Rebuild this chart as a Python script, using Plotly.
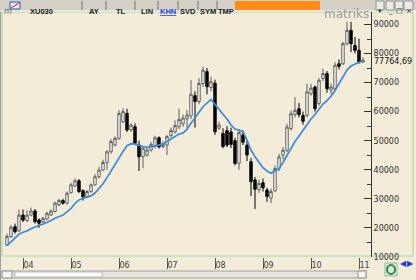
import plotly.graph_objects as go

# ---------------- data (monthly XU030, Sep 2003 .. Feb 2011) ----------------
month_idx = list(range(90))
opens = [14100, 17000, 20400, 19000, 24400, 22500, 24400, 25800, 22700, 22100,
         23000, 24400, 25600, 27900, 29400, 28500, 32100, 34400, 36200, 32800,
         30700, 32500, 34800, 37600, 39900, 42500, 46200, 48500, 50800, 56500,
         59400, 53700, 54800, 48500, 44500, 45000, 46800, 47900, 51000, 47900,
         48500, 51800, 53000, 54800, 55800, 57500, 58500, 65500, 63500, 69700,
         73800, 68300, 69800, 54300, 52500, 53500, 53000, 50000, 42200, 52000,
         48500, 42800, 36500, 33100, 35500, 33000, 30200, 32800, 40400, 45000,
         46700, 54200, 59000, 61000, 58700, 58700, 66200, 68500, 62800, 71400,
         73100, 67400, 67900, 76500, 76500, 83400, 88000, 82800, 81100, 77100]
highs = [18000, 21000, 21500, 26200, 26300, 26000, 27000, 26500, 23300, 23800,
         25500, 26300, 29000, 30000, 30000, 32500, 35500, 37000, 36800, 33300,
         33000, 35300, 38500, 41000, 43500, 46800, 50500, 51500, 60500, 61200,
         61000, 56000, 56000, 50000, 47800, 47500, 49500, 51700, 51500, 49800,
         52000, 54500, 57000, 61000, 59000, 60500, 70800, 67000, 71500, 75500,
         75000, 72000, 71000, 56600, 54300, 55000, 54500, 51000, 54000, 53500,
         50000, 44000, 37500, 36500, 37000, 33800, 33500, 41500, 45500, 47800,
         55800, 60400, 65000, 63000, 60000, 69600, 69600, 69000, 71500, 74800,
         74000, 69500, 77000, 78000, 84000, 90900, 90900, 85700, 85100, 78700]
lows = [13800, 16500, 18000, 18500, 22000, 22000, 24000, 21500, 20000, 21700,
        22800, 24200, 25300, 27500, 28000, 28000, 31800, 34000, 32000, 29400,
        30200, 32000, 34500, 37000, 39500, 40000, 45500, 48000, 50300, 56000,
        53000, 53000, 48500, 39600, 40500, 44500, 46200, 47500, 47300, 47500,
        45100, 51000, 52500, 54000, 54800, 54500, 57500, 54500, 62500, 68500,
        66000, 67000, 52000, 53700, 47400, 47800, 47500, 41500, 40000, 48500,
        43000, 31000, 26500, 32000, 32500, 29000, 28500, 32300, 39500, 43500,
        46000, 53500, 58000, 58000, 55500, 58000, 65500, 60000, 62000, 70500,
        66500, 66000, 67000, 74500, 76000, 82800, 80500, 80000, 76500, 76800]
closes = [17000, 20200, 18700, 24400, 22700, 24400, 25800, 22100, 21600, 23300,
          25000, 25800, 28500, 29400, 28500, 31900, 34800, 36200, 32500, 30700,
          32500, 34800, 37600, 39900, 42500, 46200, 49700, 50800, 59400, 60000,
          53700, 55400, 49100, 44500, 47400, 46800, 48750, 51000, 47900, 48750,
          51400, 53500, 55200, 57300, 57800, 58800, 66000, 63500, 69700, 74300,
          68600, 70300, 53100, 55400, 48000, 48500, 48700, 42200, 52800, 49500,
          45100, 35900, 33300, 35300, 33800, 30800, 32500, 40400, 44400, 46700,
          54700, 59300, 60500, 59000, 56700, 66800, 68100, 61000, 70800, 73100,
          67900, 68500, 76000, 75600, 83400, 88000, 83400, 81100, 77100, 77764.69]
moving_avg = [13900, 15300, 16700, 17800, 18500, 18900, 19700, 20400, 20900, 21300,
              21800, 22500, 23300, 23900, 24400, 25500, 26700, 28400, 29600, 30100,
              30500, 31000, 32000, 33500, 35200, 37300, 39600, 41900, 44300, 46300,
              48300, 49000, 48800, 48300, 48000, 47700, 47900, 48300, 48500, 48900,
              49700, 50500, 51400, 52300, 52600, 54000, 56000, 57700, 59800, 61700,
              63100, 64200, 62500, 60600, 59100, 57500, 55400, 54000, 53600, 53200,
              50200, 46800, 44500, 42600, 40700, 39600, 38800, 39600, 40400, 42500,
              45000, 47500, 49700, 51600, 53700, 55800, 57500, 59000, 61000, 62600,
              63800, 65300, 67300, 69500, 71700, 74300, 75700, 76500, 77000, 77300]
year_tick_idx = [4, 16, 28, 40, 52, 64, 76, 88]
year_tick_text = ["04", "05", "06", "07", "08", "09", "10", "11"]
price_ticks = [10000, 20000, 30000, 40000, 50000, 60000, 70000, 80000, 90000]
last_value = 77764.69
last_label = "77764,69"
symbol = "XU030"
menu_items = ["AY", "TL", "LIN", "KHN", "SVD", "SYM", "TMP"]

# ---------------- layout geometry ----------------
W, H = 416, 280
PL, PR, PT, PB = 2, 371, 12, 257   # plot area in pixels
BG = "#F2ECD9"
FONT = "DejaVu Sans"
BAR_FONT = "Liberation Sans"


def px(x):
    return (x - PL) / (PR - PL)


def py(y):
    return (PB - y) / (PB - PT)


fig = go.Figure()
fig.add_trace(go.Candlestick(
    x=month_idx, open=opens, high=highs, low=lows, close=closes,
    increasing=dict(line=dict(color="#5E5E5E", width=1), fillcolor="#FFFFFF"),
    decreasing=dict(line=dict(color="#000000", width=1), fillcolor="#000000"),
    whiskerwidth=0, showlegend=False, hoverinfo="skip"))
fig.add_trace(go.Scatter(
    x=month_idx, y=moving_avg, mode="lines",
    line=dict(color="#3A8BDD", width=1.7), showlegend=False, hoverinfo="skip"))

shapes = []
ann = []

# green frame around chart + price axis
shapes.append(dict(type="rect", xref="paper", yref="paper",
                   x0=px(2), x1=px(413), y0=py(256), y1=py(12),
                   line=dict(color="#A6D6A0", width=1), fillcolor="rgba(0,0,0,0)", layer="below"))
# window left edge
shapes.append(dict(type="line", xref="paper", yref="paper", x0=px(0.5), x1=px(0.5),
                   y0=py(280), y1=py(0), line=dict(color="#A0A0A0", width=1)))
# toolbar
shapes.append(dict(type="rect", xref="paper", yref="paper", x0=px(0), x1=px(416),
                   y0=py(11), y1=py(0), line=dict(width=0), fillcolor="#D5D1C6"))
shapes.append(dict(type="line", xref="paper", yref="paper", x0=px(0), x1=px(416),
                   y0=py(11), y1=py(11), line=dict(color="#F8F8F8", width=1)))
shapes.append(dict(type="rect", xref="paper", yref="paper", x0=px(235), x1=px(320),
                   y0=py(10), y1=py(1), line=dict(width=0), fillcolor="#FF8A14"))
# separators in toolbar
for sx in [82, 106, 135, 158, 178, 198, 217]:
    shapes.append(dict(type="line", xref="paper", yref="paper", x0=px(sx), x1=px(sx),
                       y0=py(10), y1=py(1), line=dict(color="#707070", width=1)))
# icon
shapes.append(dict(type="rect", xref="paper", yref="paper", x0=px(10), x1=px(20),
                   y0=py(9), y1=py(2), line=dict(color="#3050C0", width=1), fillcolor="#E8E8F0"))
shapes.append(dict(type="line", xref="paper", yref="paper", x0=px(11), x1=px(19),
                   y0=py(8), y1=py(3), line=dict(color="#D02020", width=1)))
# window buttons
for bx0, bx1 in [(376, 384), (386, 394), (395, 403), (404, 413)]:
    shapes.append(dict(type="rect", xref="paper", yref="paper", x0=px(bx0), x1=px(bx1),
                       y0=py(10), y1=py(1), line=dict(color="#909090", width=1), fillcolor="#ECEAE4"))
# scrollbar
shapes.append(dict(type="rect", xref="paper", yref="paper", x0=px(2), x1=px(366),
                   y0=py(278), y1=py(271), line=dict(color="#A0A0A0", width=1), fillcolor="#E6E3DA"))
shapes.append(dict(type="rect", xref="paper", yref="paper", x0=px(15), x1=px(102),
                   y0=py(277), y1=py(272), line=dict(color="#B8B8B8", width=1), fillcolor="#FFFFFF"))
shapes.append(dict(type="rect", xref="paper", yref="paper", x0=px(2), x1=px(12),
                   y0=py(278), y1=py(271), line=dict(color="#909090", width=1), fillcolor="#F4F4F0"))
shapes.append(dict(type="rect", xref="paper", yref="paper", x0=px(358), x1=px(366),
                   y0=py(278), y1=py(271), line=dict(color="#909090", width=1), fillcolor="#F4F4F0"))
# refresh icon
shapes.append(dict(type="rect", xref="paper", yref="paper", x0=px(385), x1=px(397),
                   y0=py(276), y1=py(263), line=dict(color="#8FB8A0", width=1), fillcolor="#DDEBDD"))
shapes.append(dict(type="circle", xref="paper", yref="paper", x0=px(387), x1=px(395),
                   y0=py(274), y1=py(265), line=dict(color="#2F8A4A", width=2), fillcolor="rgba(0,0,0,0)"))

# toolbar texts
ann.append(dict(xref="paper", yref="paper", x=px(2), y=py(5.5), text="m", showarrow=False,
                xanchor="left", font=dict(family=FONT, size=8, color="#707070")))
ann.append(dict(xref="paper", yref="paper", x=px(28), y=py(5.5), text="<b>" + symbol + "</b>",
                showarrow=False, xanchor="left", font=dict(family=BAR_FONT, size=7.5, color="#202020")))
menu_x = [94, 121, 146.5, 168, 188, 207.5, 225.5]
for mx, t in zip(menu_x, menu_items):
    col = "#1E3CE0" if t == "KHN" else "#202020"
    txt = "<b><u>" + t + "</u></b>" if t == "KHN" else "<b>" + t + "</b>"
    ann.append(dict(xref="paper", yref="paper", x=px(mx), y=py(5.5), text=txt, showarrow=False,
                    xanchor="center", font=dict(family=BAR_FONT, size=7.5, color=col)))
ann.append(dict(xref="paper", yref="paper", x=px(322), y=py(5.5), text="matriks", showarrow=False,
                xanchor="left", font=dict(family=FONT, size=12, color="#9A9A9A")))
for bx, t in [(380, "▾"), (390, "_"), (399, "□"), (408.5, "×")]:
    ann.append(dict(xref="paper", yref="paper", x=px(bx), y=py(5.5), text=t, showarrow=False,
                    xanchor="center", font=dict(family=FONT, size=7, color="#303030")))
# nav arrows
ann.append(dict(xref="paper", yref="paper", x=px(403), y=py(270), text="◀", showarrow=False,
                xanchor="center", font=dict(family=FONT, size=8, color="#1E3CC8")))
ann.append(dict(xref="paper", yref="paper", x=px(410), y=py(270), text="▶", showarrow=False,
                xanchor="center", font=dict(family=FONT, size=8, color="#1E3CC8")))
# last value label
ann.append(dict(xref="paper", yref="y", x=1.0, y=last_value, text=last_label, showarrow=False,
                xanchor="left", xshift=1, yshift=-1, font=dict(family=FONT, size=8, color="#101010")))

fig.update_layout(
    width=W, height=H,
    margin=dict(l=PL, r=W - PR, t=PT, b=H - PB),
    paper_bgcolor=BG, plot_bgcolor=BG,
    boxgap=0.15,
    shapes=shapes, annotations=ann,
    showlegend=False,
    xaxis=dict(range=[-1.25, 91], tickvals=year_tick_idx, ticktext=year_tick_text,
               ticks="outside", ticklen=11, tickcolor="#555555", tickwidth=1,
               ticklabelposition="outside right",
               tickfont=dict(family=FONT, size=8, color="#404040"),
               showgrid=False, zeroline=False, showline=False,
               rangeslider=dict(visible=False), fixedrange=True),
    yaxis=dict(side="right", range=[9975, 94300], tickvals=price_ticks,
               ticktext=[str(v) for v in price_ticks],
               ticks="inside", ticklen=7, tickcolor="#333333", tickwidth=1,
               minor=dict(dtick=5000, ticks="inside", ticklen=4, tickcolor="#333333"),
               showline=True, linecolor="#333333", linewidth=1,
               tickfont=dict(family=FONT, size=8, color="#303030"),
               showgrid=False, zeroline=False, fixedrange=True),
)

fig.write_html("out.html")
